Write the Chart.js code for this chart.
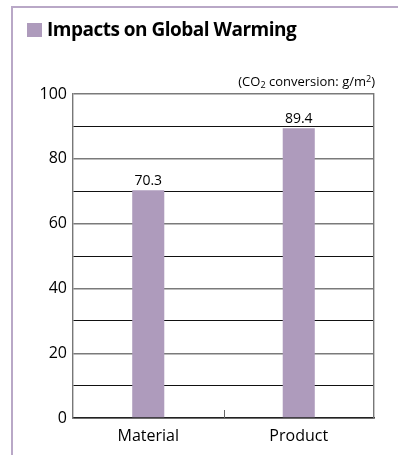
<!DOCTYPE html>
<html>
<head>
<meta charset="utf-8">
<script src="https://cdn.jsdelivr.net/npm/chart.js@4/dist/chart.umd.min.js"></script>
<style>
    html, body { margin: 0; padding: 0; background: #fff; }
    body { width: 398px; height: 455px; position: relative; overflow: hidden; font-family: "Open Sans", sans-serif; }
    #frame {
        position: absolute; left: 11px; top: 6px; right: -4px; bottom: -4px;
        border-left: 2px solid #b9a8c7; border-top: 2px solid #b9a8c7;
    }
    #title {
        position: absolute; left: 27px; top: 16px;
        font-weight: 700; font-size: 19px; color: #000; letter-spacing: -0.5px;
        white-space: nowrap;
    }
    #title .mark {
        display: inline-block; width: 15px; height: 14px; background: #ae9bbc;
        margin-right: 5px; vertical-align: -1px;
    }
    #unit {
        position: absolute; right: 23px; top: 72px;
        font-size: 13px; color: #000; white-space: nowrap;
    }
    #unit sub, #unit sup { font-size: 9px; }
    #unit sub { vertical-align: -2px; }
    #unit sup { vertical-align: 4px; }
    #wrap { position: absolute; left: 0; top: 0; width: 398px; height: 455px; }
</style>
</head>
<body>
<div id="frame"></div>
<div id="wrap"><canvas id="chart"></canvas></div>
<div id="title"><span class="mark"></span>Impacts on Global Warming</div>
<div id="unit">(CO<sub>2</sub> conversion: g/m<sup>2</sup>)</div>
<script>
document.addEventListener('DOMContentLoaded', () => {
    // Data
    const categories = ['Material', 'Product'];
    const values = [70.3, 89.4];
    const yTicks = [0, 20, 40, 60, 80, 100];

    const barColor = '#ae9bbc';
    const fontFamily = '"Open Sans", sans-serif';

    // value labels above bars + small divider tick between categories
    const extras = {
        id: 'extras',
        afterDatasetsDraw(chart) {
            const { ctx } = chart;
            const meta = chart.getDatasetMeta(0);
            ctx.save();
            ctx.fillStyle = '#000';
            ctx.font = '14px ' + fontFamily;
            ctx.textAlign = 'center';
            ctx.textBaseline = 'bottom';
            meta.data.forEach((bar, i) => {
                ctx.fillText(values[i].toFixed(1), bar.x, bar.y - 2);
            });

            const xScale = chart.scales.x;
            const mid = xScale.getPixelForValue(0.5);
            const bottom = chart.chartArea.bottom;
            ctx.strokeStyle = '#666';
            ctx.lineWidth = 1;
            ctx.beginPath();
            ctx.moveTo(Math.round(mid) + 0.5, bottom);
            ctx.lineTo(Math.round(mid) + 0.5, bottom - 8);
            ctx.stroke();
            ctx.restore();
        }
    };

    new Chart(document.getElementById('chart'), {
        type: 'bar',
        data: {
            labels: categories,
            datasets: [{
                data: values,
                backgroundColor: barColor,
                borderWidth: 0,
                categoryPercentage: 1,
                barPercentage: 0.213
            }]
        },
        options: {
            responsive: true,
            maintainAspectRatio: false,
            animation: false,
            events: [],
            layout: { padding: { top: 94, left: 0, right: 0, bottom: 0 } },
            plugins: { legend: { display: false }, tooltip: { enabled: false } },
            scales: {
                x: {
                    grid: { display: false },
                    border: { display: true, color: '#222', width: 1.5 },
                    ticks: { color: '#000', font: { family: fontFamily, size: 16 }, padding: 1 },
                    afterFit: (scale) => { scale.height = 37; }
                },
                y: {
                    min: 0,
                    max: 100,
                    afterBuildTicks: (scale) => {
                        const t = [];
                        for (let v = 0; v <= 100; v += 10) t.push({ value: v });
                        scale.ticks = t;
                    },
                    grid: {
                        drawTicks: false,
                        color: (c) => (c.tick.value % 20 === 0 ? '#7a7a7a' : '#111'),
                        lineWidth: (c) => (c.tick.value % 20 === 0 ? 1.4 : 1)
                    },
                    border: { display: true, color: '#777', width: 1.4 },
                    ticks: {
                        color: '#000',
                        font: { family: fontFamily, size: 16 },
                        padding: 6,
                        callback: (v) => (yTicks.includes(v) ? String(v) : '')
                    },
                    afterFit: (scale) => { scale.width = 73; }
                },
                y2: {
                    position: 'right',
                    min: 0,
                    max: 100,
                    grid: { display: false },
                    border: { display: true, color: '#777', width: 1.4 },
                    ticks: { display: false },
                    afterFit: (scale) => { scale.width = 24; }
                }
            }
        },
        plugins: [extras]
    });
});
</script>
</body>
</html>
